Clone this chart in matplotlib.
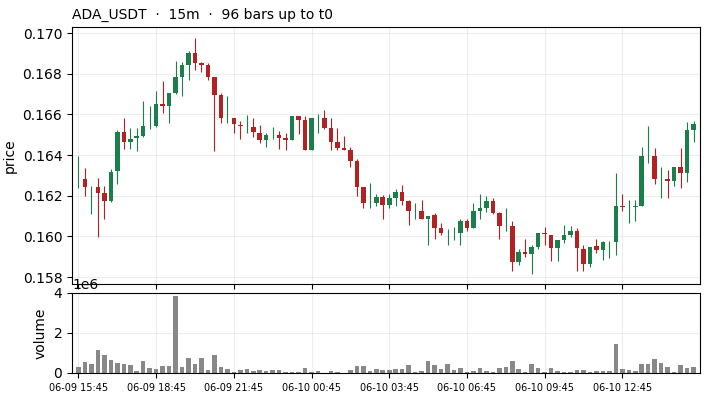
import numpy as np
import matplotlib
matplotlib.use("Agg")
import matplotlib.pyplot as plt
from matplotlib.ticker import StrMethodFormatter

# OHLC values (15m bars)
opens = [
    0.1631, 0.16281, 0.1620, 0.16241, 0.16212, 0.16174, 0.16322, 0.16512,
    0.16465, 0.16484, 0.16494, 0.1657, 0.16542, 0.16650, 0.16640, 0.16704,
    0.16783, 0.16842, 0.16901, 0.16854, 0.16842, 0.16783, 0.16694, 0.1658,
    0.16581, 0.16550, 0.1655, 0.16540, 0.16511, 0.16475, 0.1651, 0.16501,
    0.16483, 0.16475, 0.16592, 0.16572, 0.16426, 0.1655, 0.16582, 0.16533,
    0.16464, 0.16434, 0.16424, 0.16370, 0.16242, 0.1619, 0.16165, 0.16193,
    0.16154, 0.16191, 0.16219, 0.16172, 0.1612, 0.16123, 0.16088, 0.16103,
    0.16039, 0.1600, 0.1601, 0.16019, 0.16078, 0.16039, 0.16123, 0.16142,
    0.16172, 0.16113, 0.1608, 0.16049, 0.15873, 0.15921, 0.15912, 0.15950,
    0.16019, 0.16009, 0.15942, 0.15980, 0.16009, 0.16029, 0.15940, 0.15863,
    0.15951, 0.15933, 0.1594, 0.15971, 0.16152, 0.1612, 0.16144, 0.16152,
    0.1645, 0.16395, 0.1626, 0.16281, 0.16273, 0.16341, 0.16313, 0.16523,
]
closes = [
    0.1631, 0.16243, 0.1620, 0.16213, 0.16174, 0.16319, 0.16512, 0.16465,
    0.16481, 0.16493, 0.16542, 0.1657, 0.16650, 0.16640, 0.16704, 0.16783,
    0.16842, 0.16901, 0.16854, 0.16844, 0.16783, 0.16696, 0.16583, 0.1658,
    0.16553, 0.16543, 0.1655, 0.16514, 0.16475, 0.16501, 0.1651, 0.16484,
    0.16475, 0.16592, 0.16574, 0.16426, 0.16582, 0.1655, 0.16534, 0.16465,
    0.16436, 0.16426, 0.16372, 0.16244, 0.16165, 0.1619, 0.16193, 0.16155,
    0.16191, 0.16219, 0.16172, 0.16123, 0.1612, 0.16088, 0.16101, 0.16039,
    0.16019, 0.1600, 0.1601, 0.16078, 0.16039, 0.16123, 0.16142, 0.16172,
    0.16113, 0.16050, 0.1608, 0.15873, 0.15921, 0.15912, 0.15948, 0.16019,
    0.16011, 0.15942, 0.15980, 0.16009, 0.16029, 0.15942, 0.15863, 0.15950,
    0.15933, 0.15971, 0.1594, 0.16152, 0.16144, 0.1612, 0.16152, 0.16395,
    0.1645, 0.16283, 0.1626, 0.16273, 0.16341, 0.16313, 0.16523, 0.16552,
]
highs = [
    0.16394, 0.16338, 0.16250, 0.16289, 0.16250, 0.16330, 0.16521, 0.16580,
    0.16532, 0.16532, 0.16665, 0.16639, 0.16714, 0.16764, 0.16706, 0.16862,
    0.16860, 0.16910, 0.16974, 0.16860, 0.16851, 0.16783, 0.16703, 0.16691,
    0.16581, 0.16568, 0.16599, 0.16580, 0.16548, 0.16511, 0.16537, 0.16519,
    0.16511, 0.16592, 0.16592, 0.16590, 0.16582, 0.16600, 0.16620, 0.16580,
    0.16531, 0.16493, 0.16442, 0.16382, 0.16242, 0.16262, 0.16211, 0.16203,
    0.16210, 0.16231, 0.16251, 0.16180, 0.16162, 0.16180, 0.16101, 0.16114,
    0.16067, 0.16035, 0.16047, 0.16086, 0.16086, 0.16162, 0.16211, 0.16201,
    0.16191, 0.16121, 0.16141, 0.16077, 0.15939, 0.15988, 0.15960, 0.16019,
    0.16047, 0.16009, 0.15980, 0.16058, 0.16049, 0.16039, 0.15960, 0.15950,
    0.15989, 0.15979, 0.15979, 0.16311, 0.16211, 0.16181, 0.16181, 0.16442,
    0.16543, 0.16433, 0.16339, 0.16329, 0.16341, 0.16433, 0.16561, 0.16570,
]
lows = [
    0.16240, 0.16200, 0.16112, 0.15998, 0.16085, 0.16169, 0.16259, 0.16432,
    0.16432, 0.16422, 0.16489, 0.16530, 0.16539, 0.16608, 0.16558, 0.16700,
    0.16693, 0.16770, 0.16819, 0.16811, 0.16770, 0.16422, 0.16560, 0.16560,
    0.16511, 0.16481, 0.16511, 0.16489, 0.16461, 0.16442, 0.16481, 0.16432,
    0.16423, 0.16475, 0.16503, 0.16423, 0.16423, 0.16511, 0.16529, 0.16423,
    0.16423, 0.16423, 0.16339, 0.16199, 0.16140, 0.16142, 0.16150, 0.16086,
    0.16139, 0.16150, 0.16157, 0.16055, 0.16085, 0.16085, 0.15957, 0.15986,
    0.16008, 0.15957, 0.15980, 0.15957, 0.16027, 0.16039, 0.16085, 0.16119,
    0.16109, 0.15988, 0.16027, 0.15830, 0.15861, 0.15901, 0.15815, 0.15937,
    0.15958, 0.15879, 0.15879, 0.15968, 0.15999, 0.15830, 0.15830, 0.15852,
    0.15920, 0.15882, 0.15892, 0.15910, 0.16124, 0.16068, 0.16078, 0.16152,
    0.16359, 0.16260, 0.16191, 0.16191, 0.16249, 0.16240, 0.16270, 0.16462,
]
volumes_m = [
    0.30, 0.55, 0.45, 1.15, 0.90, 0.65, 0.49, 0.45, 0.40, 0.10, 0.60, 0.25,
    0.20, 0.35, 0.35, 3.87, 0.30, 0.75, 0.45, 0.75, 0.15, 0.90, 0.30, 0.20,
    0.05, 0.15, 0.20, 0.10, 0.15, 0.10, 0.15, 0.15, 0.05, 0.05, 0.05, 0.25,
    0.05, 0.10, 0.02, 0.10, 0.05, 0.02, 0.15, 0.35, 0.35, 0.10, 0.20, 0.15,
    0.15, 0.20, 0.20, 0.40, 0.05, 0.10, 0.60, 0.40, 0.20, 0.45, 0.15, 0.25,
    0.05, 0.10, 0.25, 0.10, 0.05, 0.25, 0.30, 0.60, 0.20, 0.05, 0.45, 0.25,
    0.05, 0.25, 0.10, 0.05, 0.05, 0.15, 0.15, 0.05, 0.10, 0.10, 0.10, 1.46,
    0.20, 0.15, 0.10, 0.45, 0.45, 0.70, 0.50, 0.30, 0.05, 0.40, 0.25, 0.30,
]
tick_labels = [
    "06-09 15:45", "06-09 18:45", "06-09 21:45", "06-10 00:45",
    "06-10 03:45", "06-10 06:45", "06-10 09:45", "06-10 12:45",
]

UP = "#1a7f4b"
DOWN = "#b22222"

o = np.array(opens)
c = np.array(closes)
h = np.array(highs)
l = np.array(lows)
v = np.array(volumes_m) * 1e6
x = np.arange(len(o))
colors = np.where(c >= o, UP, DOWN)

fig = plt.figure(figsize=(7.08, 4.0), dpi=100)
ax = fig.add_axes([0.1017, 0.29, 0.887, 0.6425])
axv = fig.add_axes([0.1017, 0.0675, 0.887, 0.2], sharex=ax)

# wicks then bodies
ax.vlines(x, l, h, colors=colors, linewidth=0.8, zorder=2)
ax.bar(x, np.abs(c - o), bottom=np.minimum(o, c), width=0.7,
       color=colors, linewidth=0, zorder=3)

ax.set_xlim(-1, 96)
ax.set_ylim(0.15766, 0.1703)
ax.set_yticks(np.arange(0.158, 0.1705, 0.002))
ax.yaxis.set_major_formatter(StrMethodFormatter("{x:.3f}"))
ax.set_ylabel("price")
ax.grid(True, color="#dddddd", alpha=0.5, linewidth=0.8)
ax.set_axisbelow(True)
ax.set_title("ADA_USDT  ·  15m  ·  96 bars up to t0", loc="left", fontsize=10)
ax.tick_params(labelbottom=False)

axv.bar(x, v, width=0.7, color="#888888", linewidth=0)
axv.set_ylim(0, 4e6)
axv.set_yticks([0, 2e6, 4e6])
axv.set_ylabel("volume")
axv.grid(True, color="#dddddd", alpha=0.5, linewidth=0.8)
axv.set_axisbelow(True)
axv.set_xticks(np.arange(0, 96, 12))
axv.set_xticklabels(tick_labels, fontsize=7)

fig.savefig("out.png", dpi=100)
